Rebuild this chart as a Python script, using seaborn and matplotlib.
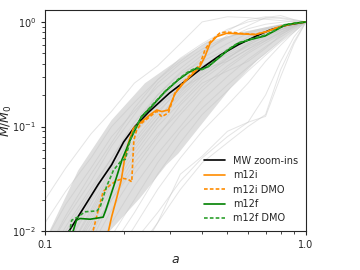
import numpy as np
import pandas as pd
import matplotlib
matplotlib.use('Agg')
import matplotlib.pyplot as plt
import seaborn as sns
from matplotlib.ticker import NullFormatter

# scale factor grid shared by the individual MW-mass histories
a_grid = [0.1, 0.12, 0.15, 0.18, 0.22, 0.27, 0.33, 0.4, 0.5, 0.6, 0.7, 0.8, 0.9, 1.0]
halo_mah = [
    [0.02, 0.04, 0.085, 0.14, 0.26, 0.38, 0.62, 1.0, 1.12, 1.1, 1.06, 1.03, 1.01, 1.0],
    [0.012, 0.024, 0.05, 0.1, 0.17, 0.28, 0.42, 0.6, 0.82, 1.05, 1.12, 1.08, 1.03, 1.0],
    [0.008, 0.018, 0.04, 0.08, 0.14, 0.24, 0.36, 0.52, 0.7, 0.86, 0.95, 0.99, 1.02, 1.0],
    [0.006, 0.013, 0.03, 0.065, 0.13, 0.26, 0.4, 0.55, 0.72, 0.8, 0.88, 0.94, 0.98, 1.0],
    [0.005, 0.011, 0.026, 0.05, 0.1, 0.2, 0.33, 0.48, 0.75, 0.92, 1.1, 1.15, 1.05, 1.0],
    [0.004, 0.009, 0.022, 0.045, 0.09, 0.17, 0.3, 0.45, 0.62, 0.78, 0.86, 0.93, 0.97, 1.0],
    [0.003, 0.007, 0.018, 0.04, 0.085, 0.15, 0.24, 0.36, 0.5, 0.63, 0.75, 0.86, 0.94, 1.0],
    [0.003, 0.006, 0.015, 0.035, 0.075, 0.14, 0.22, 0.33, 0.52, 0.68, 0.8, 0.88, 0.95, 1.0],
    [0.002, 0.005, 0.013, 0.03, 0.07, 0.13, 0.25, 0.38, 0.48, 0.6, 0.72, 0.84, 0.93, 1.0],
    [0.002, 0.006, 0.016, 0.038, 0.09, 0.16, 0.23, 0.3, 0.45, 0.6, 0.74, 0.85, 0.93, 1.0],
    [0.002, 0.005, 0.012, 0.028, 0.06, 0.12, 0.2, 0.32, 0.46, 0.58, 0.68, 0.8, 0.9, 1.0],
    [0.003, 0.007, 0.02, 0.045, 0.1, 0.18, 0.27, 0.35, 0.42, 0.55, 0.7, 0.83, 0.92, 1.0],
    [0.002, 0.004, 0.011, 0.025, 0.055, 0.11, 0.19, 0.3, 0.44, 0.62, 0.78, 0.9, 0.97, 1.0],
    [0.001, 0.003, 0.009, 0.022, 0.05, 0.1, 0.17, 0.28, 0.42, 0.55, 0.66, 0.78, 0.9, 1.0],
    [0.001, 0.003, 0.007, 0.016, 0.035, 0.07, 0.13, 0.22, 0.36, 0.5, 0.63, 0.76, 0.88, 1.0],
    [0.001, 0.002, 0.005, 0.012, 0.027, 0.055, 0.1, 0.18, 0.3, 0.44, 0.58, 0.72, 0.86, 1.0],
    [0.001, 0.002, 0.004, 0.009, 0.02, 0.045, 0.09, 0.15, 0.25, 0.37, 0.5, 0.66, 0.82, 1.0],
    [0.0005, 0.001, 0.003, 0.007, 0.015, 0.035, 0.07, 0.13, 0.22, 0.34, 0.48, 0.64, 0.8, 1.0],
    [0.0005, 0.001, 0.002, 0.005, 0.011, 0.025, 0.05, 0.09, 0.16, 0.26, 0.42, 0.6, 0.8, 1.0],
    [0.0003, 0.0008, 0.002, 0.004, 0.008, 0.015, 0.03, 0.05, 0.08, 0.11, 0.2, 0.42, 0.72, 1.0],
    [0.0003, 0.0006, 0.0015, 0.003, 0.006, 0.012, 0.025, 0.045, 0.07, 0.1, 0.13, 0.35, 0.65, 1.0],
    [0.0002, 0.0005, 0.001, 0.002, 0.005, 0.012, 0.035, 0.052, 0.09, 0.11, 0.125, 0.3, 0.62, 1.0],
    [0.004, 0.01, 0.024, 0.05, 0.11, 0.2, 0.32, 0.42, 0.55, 0.66, 0.76, 0.84, 0.92, 1.0],
    [0.002, 0.005, 0.014, 0.033, 0.065, 0.12, 0.21, 0.35, 0.55, 0.72, 0.85, 0.93, 0.97, 1.0],
    [0.001, 0.003, 0.008, 0.02, 0.045, 0.085, 0.14, 0.24, 0.38, 0.52, 0.66, 0.8, 0.92, 1.0],
    [0.001, 0.004, 0.01, 0.02, 0.04, 0.08, 0.16, 0.26, 0.34, 0.42, 0.56, 0.75, 0.9, 1.0],
    [0.006, 0.014, 0.035, 0.07, 0.15, 0.28, 0.45, 0.62, 0.85, 1.0, 1.08, 1.1, 1.05, 1.0],
]

# scatter band edges
band_hi_a = [0.1, 0.104, 0.134, 0.18, 0.2415, 0.324, 0.421, 0.58, 0.783, 1.0]
band_hi_m = [0.0075, 0.01, 0.038, 0.115, 0.259, 0.433, 0.648, 0.808, 0.936, 1.0]
band_lo_a = [0.16, 0.177, 0.231, 0.292, 0.324, 0.41, 0.519, 0.653, 0.838, 1.0]
band_lo_m = [0.0075, 0.01, 0.0206, 0.043, 0.055, 0.115, 0.24, 0.433, 0.724, 1.0]

mw_a = [0.115, 0.1236, 0.14, 0.16, 0.18, 0.2, 0.221, 0.25, 0.3, 0.35, 0.4, 0.47, 0.55, 0.65, 0.73, 0.85, 1.0]
mw_m = [0.0075, 0.01, 0.0164, 0.028, 0.043, 0.071, 0.1, 0.138, 0.209, 0.28, 0.363, 0.483, 0.605, 0.74, 0.84, 0.935, 1.0]

m12i_a = [0.172, 0.175, 0.18, 0.188, 0.196, 0.2015, 0.2085, 0.218, 0.2345, 0.252, 0.268, 0.28, 0.297,
          0.315, 0.339, 0.37, 0.392, 0.41, 0.429, 0.455, 0.497, 0.567, 0.638, 0.707, 0.783, 0.881, 1.0]
m12i_m = [0.009, 0.01, 0.0137, 0.0205, 0.0308, 0.0478, 0.069, 0.096, 0.111, 0.129, 0.144, 0.139, 0.144,
          0.207, 0.259, 0.323, 0.374, 0.466, 0.625, 0.724, 0.779, 0.768, 0.756, 0.808, 0.889, 0.957, 1.0]

m12i_dmo_a = [0.15, 0.153, 0.16, 0.167, 0.1774, 0.188, 0.1996, 0.2085, 0.215, 0.217, 0.219, 0.2245, 0.235,
              0.252, 0.268, 0.28, 0.297, 0.315, 0.339, 0.37, 0.392, 0.41, 0.428, 0.467, 0.49, 0.53, 0.57,
              0.64, 0.71, 0.78, 0.88, 1.0]
m12i_dmo_m = [0.009, 0.0102, 0.0159, 0.0238, 0.0275, 0.0303, 0.0319, 0.0312, 0.0296, 0.048, 0.074, 0.0926,
              0.108, 0.124, 0.14, 0.124, 0.135, 0.21, 0.265, 0.335, 0.39, 0.54, 0.64, 0.78, 0.8, 0.79, 0.775,
              0.76, 0.81, 0.89, 0.957, 1.0]

m12f_a = [0.126, 0.1285, 0.132, 0.136, 0.149, 0.167, 0.171, 0.183, 0.197, 0.212, 0.2245, 0.234, 0.256,
          0.288, 0.324, 0.354, 0.381, 0.398, 0.422, 0.461, 0.504, 0.55, 0.619, 0.697, 0.761, 0.831, 0.908, 1.0]
m12f_m = [0.009, 0.0102, 0.0127, 0.0132, 0.013, 0.0136, 0.0159, 0.0265, 0.0478, 0.0743, 0.1, 0.124, 0.155,
          0.215, 0.279, 0.327, 0.36, 0.352, 0.374, 0.449, 0.54, 0.625, 0.683, 0.734, 0.826, 0.936, 0.971, 1.0]

m12f_dmo_a = [0.124, 0.1265, 0.134, 0.142, 0.158, 0.1625, 0.172, 0.183, 0.197, 0.203, 0.212, 0.221, 0.235,
              0.256, 0.29, 0.325, 0.355, 0.38, 0.4, 0.425, 0.46, 0.5, 0.55, 0.62, 0.7, 0.76, 0.83, 0.91, 1.0]
m12f_dmo_m = [0.0095, 0.0127, 0.0137, 0.0153, 0.0156, 0.0169, 0.0265, 0.0383, 0.0478, 0.0485, 0.074, 0.096,
              0.125, 0.158, 0.22, 0.285, 0.335, 0.365, 0.35, 0.38, 0.45, 0.54, 0.63, 0.69, 0.75, 0.83, 0.94,
              0.975, 1.0]

sns.set_style('ticks')
plt.rcParams['font.family'] = ['DejaVu Sans']

fig = plt.figure(figsize=(3.6, 2.7), dpi=100)
ax = fig.add_axes([0.125, 0.144, 0.725, 0.819])
ax.set_xscale('log')
ax.set_yscale('log')

# background histories
df = pd.DataFrame({
    'a': np.tile(a_grid, len(halo_mah)),
    'M': np.concatenate(halo_mah),
    'halo': np.repeat(np.arange(len(halo_mah)), len(a_grid)),
})
ax.fill(np.concatenate([band_hi_a, band_lo_a[::-1]]),
        np.concatenate([band_hi_m, band_lo_m[::-1]]),
        color='#dedede', lw=0, zorder=1)
sns.lineplot(data=df, x='a', y='M', units='halo', estimator=None, color='#c4c4c4',
             lw=0.7, alpha=0.45, ax=ax, legend=False, zorder=2)

dash = (0, (2.2, 1.3))
sns.lineplot(x=mw_a, y=mw_m, sort=False, color='black', lw=1.2, ax=ax, label='MW zoom-ins', zorder=5)
sns.lineplot(x=m12i_a, y=m12i_m, sort=False, color='darkorange', lw=1.2, ax=ax, label='m12i', zorder=5)
sns.lineplot(x=m12i_dmo_a, y=m12i_dmo_m, sort=False, color='darkorange', lw=1.2, ls=dash, ax=ax,
             label='m12i DMO', zorder=5)
sns.lineplot(x=m12f_a, y=m12f_m, sort=False, color='green', lw=1.2, ax=ax, label='m12f', zorder=5)
sns.lineplot(x=m12f_dmo_a, y=m12f_dmo_m, sort=False, color='#2ca02c', lw=1.2, ls=dash, ax=ax,
             label='m12f DMO', zorder=5)

ax.set_xlim(0.1, 1.0)
ax.set_ylim(0.01, 1.3)
ax.set_xticks([0.1, 1.0], ['0.1', '1.0'])
ax.xaxis.set_minor_formatter(NullFormatter())
ax.tick_params(labelsize=7, length=3, width=0.8)
ax.tick_params(which='minor', length=2, width=0.6)
ax.set_xlabel('$a$', fontsize=9)
ax.set_ylabel('$M/M_0$', fontsize=9)
ax.xaxis.set_label_coords(0.5, -0.1)
ax.yaxis.set_label_coords(-0.12, 0.5)
ax.legend(loc='lower right', frameon=False, fontsize=7, handlelength=2.2, labelspacing=0.45,
          borderaxespad=0.4)

fig.savefig('out.png', dpi=100)
